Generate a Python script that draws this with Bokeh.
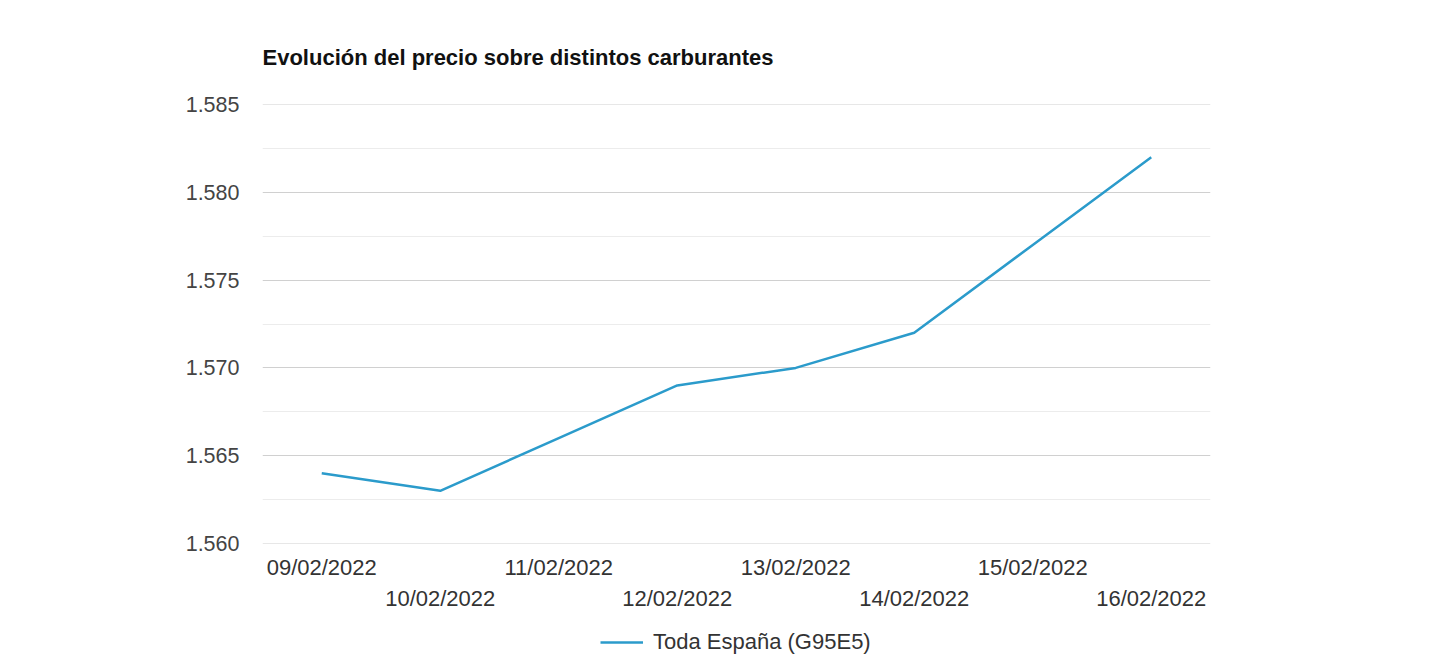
from bokeh.plotting import figure
from bokeh.layouts import column
from bokeh.models import (FactorRange, Range1d, CategoricalAxis, FixedTicker, Legend,
                          LegendItem, CustomJSTickFormatter, Span)
from bokeh.embed import file_html
from bokeh.resources import INLINE

dates = ["09/02/2022", "10/02/2022", "11/02/2022", "12/02/2022",
         "13/02/2022", "14/02/2022", "15/02/2022", "16/02/2022"]
prices = [1.564, 1.563, 1.566, 1.569, 1.570, 1.572, 1.577, 1.582]
series_name = "Toda España (G95E5)"
title_text = "Evolución del precio sobre distintos carburantes"
y_ticks = [1.560, 1.565, 1.570, 1.575, 1.580, 1.585]
y_minor = [1.5625, 1.5675, 1.5725, 1.5775, 1.5825]

FONT = "Liberation Sans"
LINE_COLOR = "#2b9bcb"
GRID = "#d0d0d0"
LINE_W = 2.5

p = figure(width=1440, height=615, output_backend="svg", toolbar_location=None,
           x_range=FactorRange(factors=dates, range_padding=0),
           y_range=Range1d(y_ticks[0], y_ticks[-1]),
           min_border_left=262, min_border_right=230,
           min_border_top=104, min_border_bottom=72,
           x_axis_location=None)
p.outline_line_color = None
p.background_fill_color = "white"
p.border_fill_color = "white"

p.title.text = title_text
p.title.text_font = FONT
p.title.text_font_size = "22px"
p.title.text_font_style = "bold"
p.title.text_color = "#111111"
p.title.align = "left"
p.title.standoff = 69
p.title.offset = 0

# y axis
ya = p.yaxis[0]
ya.ticker = FixedTicker(ticks=y_ticks, minor_ticks=y_minor)
ya.axis_line_color = None
ya.major_tick_line_color = None
ya.minor_tick_line_color = None
ya.major_label_text_font = FONT
ya.major_label_text_font_size = "21.5px"
ya.major_label_text_color = "#444444"
ya.major_label_standoff = 17
ya.formatter = CustomJSTickFormatter(code="return tick.toFixed(3);")

p.xgrid.grid_line_color = None
p.ygrid.ticker = ya.ticker
p.ygrid.grid_line_color = GRID
p.ygrid.grid_line_width = 1.2
p.ygrid.minor_grid_line_color = "#ececec"
p.ygrid.minor_grid_line_width = 1
for loc in (y_ticks[0], y_ticks[-1]):
    p.add_layout(Span(location=loc, dimension="width", line_color=GRID, line_width=1.2))

r = p.line(x=dates, y=prices, line_color=LINE_COLOR, line_width=LINE_W)

# staggered x axes
for parity, standoff in ((0, 5), (1, -3)):
    ax = CategoricalAxis()
    ax.axis_line_color = None
    ax.major_tick_line_color = None
    ax.minor_tick_line_color = None
    ax.major_label_text_font = FONT
    ax.major_label_text_font_size = "22px"
    ax.major_label_text_color = "#333333"
    ax.major_label_standoff = standoff
    ax.formatter = CustomJSTickFormatter(
        args=dict(parity=parity),
        code="return (index % 2 == parity) ? tick : '';")
    p.add_layout(ax, "below")

# legend strip below the chart (its series is outside this strip's visible y range)
p2 = figure(width=1440, height=40, output_backend="svg", toolbar_location=None,
            x_range=FactorRange(factors=dates, range_padding=0), y_range=Range1d(0, 1),
            min_border=0, x_axis_location=None, y_axis_location=None)
p2.outline_line_color = None
p2.grid.grid_line_color = None
p2.border_fill_color = "white"
r2 = p2.line(x=dates, y=prices, line_color=LINE_COLOR, line_width=LINE_W)
legend = Legend(items=[LegendItem(label=series_name, renderers=[r2])],
                location=(338, 0), orientation="horizontal",
                label_text_font=FONT, label_text_font_size="22px",
                label_text_color="#333333", glyph_width=43, glyph_height=20,
                label_standoff=10, padding=0, margin=0, spacing=0,
                border_line_color=None, background_fill_alpha=0)
p2.add_layout(legend, "center")

open("out.html", "w").write(file_html(column(p, p2, spacing=0), INLINE))
